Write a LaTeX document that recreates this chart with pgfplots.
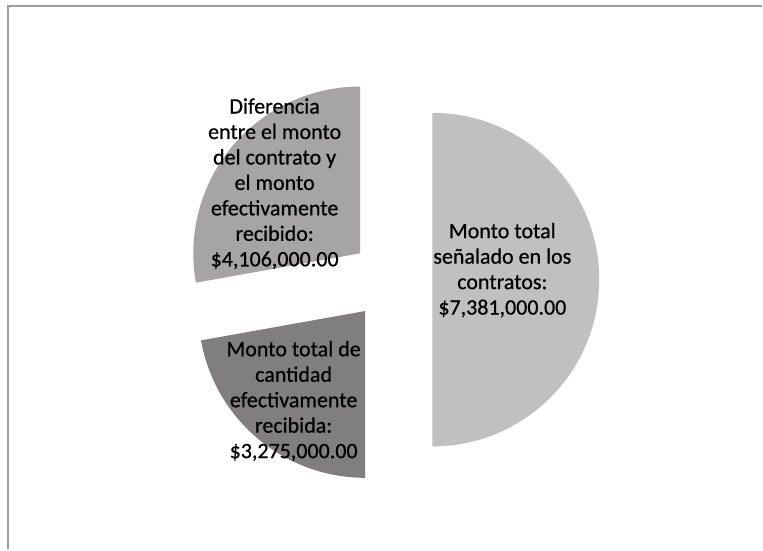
\documentclass[border=0pt]{standalone}
\usepackage{pgfplots}
\usepackage{pgfplotstable}
\pgfplotsset{compat=1.18}
\usepackage{fontspec}
\setmainfont{Carlito}[FakeBold=0.6]
\newfontfamily\lblfont{Carlito}[FakeBold=0.6]

\definecolor{sliceA}{RGB}{192,192,192}
\definecolor{sliceB}{RGB}{128,126,126}
\definecolor{sliceC}{RGB}{166,164,164}
\definecolor{framegray}{RGB}{158,158,158}

% values in the order Excel draws them (clockwise from 12 o'clock)
\pgfplotstableread{
value
7381000
3275000
4106000
}\piedata

\begin{document}
\begin{tikzpicture}
\pgfplotstablegetelem{0}{value}\of\piedata \edef\va{\pgfplotsretval}
\pgfplotstablegetelem{1}{value}\of\piedata \edef\vb{\pgfplotsretval}
\pgfplotstablegetelem{2}{value}\of\piedata \edef\vc{\pgfplotsretval}
\edef\total{\fpeval{\va+\vb+\vc}}
\def\R{167}
\def\D{41}
\def\cx{392}
\def\cy{270}
% slice A
\edef\sA{90}
\edef\eA{\fpeval{90-360*\va/\total}}
\edef\mA{\fpeval{(\sA+\eA)/2}}
\edef\axA{\fpeval{\cx+\D*cosd(\mA)}}
\edef\ayA{\fpeval{\cy+\D*sind(\mA)}}
% slice B
\edef\sB{\eA}
\edef\eB{\fpeval{\sB-360*\vb/\total}}
\edef\mB{\fpeval{(\sB+\eB)/2}}
\edef\axB{\fpeval{\cx+\D*cosd(\mB)}}
\edef\ayB{\fpeval{\cy+\D*sind(\mB)}}
% slice C
\edef\sC{\eB}
\edef\eC{\fpeval{\sC-360*\vc/\total}}
\edef\mC{\fpeval{(\sC+\eC)/2}}
\edef\axC{\fpeval{\cx+\D*cosd(\mC)}}
\edef\ayC{\fpeval{\cy+\D*sind(\mC)}}
\begin{axis}[
  x=1pt, y=1pt,
  xmin=0, xmax=763, ymin=0, ymax=550,
  hide axis, clip=false,
]
\path[fill=white] (axis cs:0,0) rectangle (axis cs:763,550);
\draw[framegray, line width=2pt] (axis cs:8.5,0) -- (axis cs:8.5,543.5) -- (axis cs:763,543.5);

\fill[sliceA] (axis cs:\axA,\ayA) -- ++(\sA:\R pt) arc[start angle=\sA, end angle=\eA, radius=\R pt] -- cycle;
\fill[sliceB] (axis cs:\axB,\ayB) -- ++(\sB:\R pt) arc[start angle=\sB, end angle=\eB, radius=\R pt] -- cycle;
\fill[sliceC] (axis cs:\axC,\ayC) -- ++(\sC:\R pt) arc[start angle=\sC, end angle=\eC, radius=\R pt] -- cycle;

\tikzset{lbl/.style={align=center, text=black, font=\lblfont\fontsize{22}{25.5}\selectfont, inner sep=0pt}}
\node[lbl] at (axis cs:503,279.5) {Monto total\\señalado en los\\contratos:\\\$7,381,000.00};
\node[lbl] at (axis cs:275,366) {Diferencia\\entre el monto\\del contrato y\\el monto\\efectivamente\\recibido:\\\$4,106,000.00};
\node[lbl] at (axis cs:294,148.5) {Monto total de\\cantidad\\efectivamente\\recibida:\\\$3,275,000.00};
\end{axis}
\end{tikzpicture}
\end{document}
